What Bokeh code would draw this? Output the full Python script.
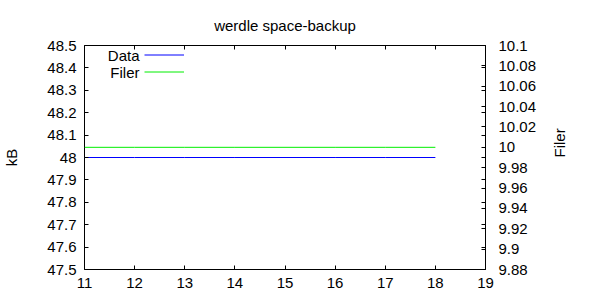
import math
from bokeh.plotting import figure
from bokeh.models import LinearAxis, Range1d, FixedTicker, Legend, LegendItem, Label
from bokeh.embed import file_html
from bokeh.resources import INLINE

# ---- data ----
x = [11, 12, 13, 14, 15, 16, 17, 18]
data_kb = [48, 48, 48, 48, 48, 48, 48, 48]
filer = [10, 10, 10, 10, 10, 10, 10, 10]
series_names = ["Data", "Filer"]
title_text = "werdle space-backup"

x_ticks = [11, 12, 13, 14, 15, 16, 17, 18, 19]
y_ticks = [47.5, 47.6, 47.7, 47.8, 47.9, 48, 48.1, 48.2, 48.3, 48.4, 48.5]
y_tick_labels = ["47.5", "47.6", "47.7", "47.8", "47.9", "48", "48.1", "48.2", "48.3", "48.4", "48.5"]
y2_ticks = [9.88, 9.9, 9.92, 9.94, 9.96, 9.98, 10, 10.02, 10.04, 10.06, 10.08, 10.1]
y2_tick_labels = ["9.88", "9.9", "9.92", "9.94", "9.96", "9.98", "10", "10.02", "10.04", "10.06", "10.08", "10.1"]

x_lo, x_hi = 11, 19
y_lo, y_hi = 47.5, 48.5
y2_lo, y2_hi = 9.88, 10.1

FONT = "Liberation Sans"
FS = "15px"

p = figure(width=600, height=300, output_backend="svg", toolbar_location=None,
           x_range=Range1d(x_lo, x_hi), y_range=Range1d(y_lo, y_hi),
           min_border_left=82, min_border_right=115, min_border_top=45, min_border_bottom=31,
           title=title_text)
p.extra_y_ranges = {"y2": Range1d(y2_lo, y2_hi)}

p.title.text_font = FONT
p.title.text_font_size = FS
p.title.text_font_style = "normal"
p.title.align = "center"
p.title.text_color = "black"
p.title.standoff = 24

p.xgrid.visible = False
p.ygrid.visible = False
p.outline_line_color = "black"
p.outline_line_width = 1
p.background_fill_color = "white"
p.border_fill_color = "white"

def style(ax, labels=True):
    ax.axis_line_color = None
    ax.major_tick_in = 4
    ax.major_tick_out = 0
    ax.major_tick_line_color = "black"
    ax.minor_tick_in = 0
    ax.minor_tick_out = 0
    ax.major_label_text_font = FONT
    ax.major_label_text_font_size = FS if labels else "1px"
    ax.major_label_text_color = "black" if labels else None
    ax.axis_label_text_font = FONT
    ax.axis_label_text_font_size = FS
    ax.axis_label_text_font_style = "normal"
    ax.axis_label_text_color = "black"

# bottom x axis
xa = p.xaxis[0]
xa.ticker = FixedTicker(ticks=x_ticks)
style(xa)
xa.major_label_standoff = 8

# left y axis
ya = p.yaxis[0]
ya.ticker = FixedTicker(ticks=y_ticks)
ya.major_label_overrides = dict(zip(y_ticks, y_tick_labels))
style(ya)
ya.major_label_standoff = 8
ya.axis_label = "kB"
ya.axis_label_standoff = 24

# top mirror axis
top = LinearAxis(ticker=FixedTicker(ticks=x_ticks))
style(top, labels=False)
top.major_label_standoff = 0
p.add_layout(top, "above")

# right y2 axis, with left-axis ticks mirrored as minor ticks
mirror = [y2_lo + (t - y_lo) / (y_hi - y_lo) * (y2_hi - y2_lo) for t in y_ticks]
ra = LinearAxis(y_range_name="y2", ticker=FixedTicker(ticks=y2_ticks, minor_ticks=mirror))
style(ra)
ra.major_label_overrides = dict(zip(y2_ticks, y2_tick_labels))
ra.minor_tick_in = 4
ra.minor_tick_out = 0
ra.minor_tick_line_color = "black"
ra.major_label_standoff = 13
ra.axis_label = "Filer"
ra.axis_label_standoff = 20
ra.axis_label_orientation = math.pi / 2
p.add_layout(ra, "right")

r1 = p.line(x, data_kb, line_color="#0000ff", line_width=1)
r2 = p.line(x, filer, line_color="#00ee00", line_width=1, y_range_name="y2")

# gnuplot-style key: text first, sample line after it
leg = Legend(items=[LegendItem(label=" ", renderers=[r1]),
                    LegendItem(label=" ", renderers=[r2])],
             location=(60, 189), orientation="vertical")
leg.background_fill_alpha = 0
leg.border_line_color = None
leg.padding = 0
leg.margin = 0
leg.spacing = 0
leg.glyph_width = 40
leg.glyph_height = 17
leg.label_height = 17
leg.label_text_font = FONT
leg.label_text_font_size = FS
p.add_layout(leg, "center")

for name, yy in zip(series_names, [214, 197]):
    p.add_layout(Label(x=55, y=yy, x_units="screen", y_units="screen", text=name,
                       text_align="right", text_baseline="middle",
                       text_font=FONT, text_font_size=FS, text_color="black"))

open("out.html", "w").write(file_html(p, INLINE))
